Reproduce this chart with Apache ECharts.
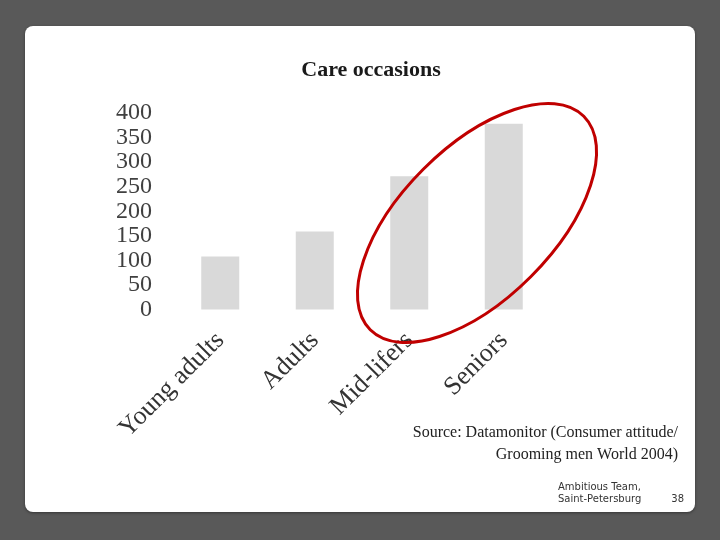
<!DOCTYPE html>
<html>
<head>
<meta charset="utf-8">
<script src="https://cdn.jsdelivr.net/npm/echarts@6/dist/echarts.min.js"></script>
<style>
html,body{margin:0;padding:0;background:#595959;}
#c{width:720px;height:540px;}
</style>
</head>
<body>
<div id="c"></div>
<script>
var categories = ['Young adults', 'Adults', 'Mid-lifers', 'Seniors'];
var values = [108, 159, 271, 378];
var yTicks = [0, 50, 100, 150, 200, 250, 300, 350, 400];
var titleText = 'Care occasions';
var sourceLines = ['Source: Datamonitor (Consumer attitude/', 'Grooming men World 2004)'];
var footerLines = ['Ambitious Team,', 'Saint-Petersburg'];
var pageNo = '38';

var chart = echarts.init(document.getElementById('c'));
var serif = '"Liberation Serif", "DejaVu Serif", serif';
chart.setOption({
  backgroundColor: '#595959',
  animation: false,
  title: {
    text: titleText,
    left: 366, top: 54, textAlign: 'center',
    textStyle: {fontFamily: serif, fontWeight: 'bold', fontSize: 22, color: '#1a1a1a'}
  },
  grid: {left: 173, right: 169, top: 113, bottom: 230.5, containLabel: false},
  xAxis: {
    type: 'category', data: categories,
    axisLine: {show: false}, axisTick: {show: false},
    axisLabel: {rotate: 45, margin: 27, interval: 0, fontFamily: serif, fontSize: 26, color: '#333'}
  },
  yAxis: {
    type: 'value', min: yTicks[0], max: yTicks[yTicks.length - 1], interval: yTicks[1] - yTicks[0],
    axisLine: {show: false}, axisTick: {show: false}, splitLine: {show: false},
    axisLabel: {margin: 21, fontFamily: serif, fontSize: 24, color: '#404040'}
  },
  series: [{
    type: 'bar', data: values, barWidth: 38,
    itemStyle: {color: '#d9d9d9'}, z: 2
  }],
  graphic: [
    {type: 'rect', z: -10, silent: true,
     shape: {x: 25, y: 26, width: 670, height: 486, r: 8},
     style: {fill: '#ffffff', shadowBlur: 3, shadowColor: 'rgba(0,0,0,0.4)', shadowOffsetY: 1}},
    {type: 'ellipse', z: 100, x: 477, y: 223, rotation: Math.PI / 4,
     shape: {cx: 0, cy: 0, rx: 151, ry: 76},
     style: {fill: 'none', stroke: '#c00000', lineWidth: 3}},
    {type: 'text', z: 50, x: 678, y: 433,
     style: {text: sourceLines[0], fontFamily: serif, fontSize: 16, fill: '#222', textAlign: 'right', textVerticalAlign: 'middle'}},
    {type: 'text', z: 50, x: 678, y: 455,
     style: {text: sourceLines[1], fontFamily: serif, fontSize: 16, fill: '#222', textAlign: 'right', textVerticalAlign: 'middle'}},
    {type: 'text', z: 50, x: 558, y: 487,
     style: {text: footerLines[0], fontFamily: '"DejaVu Sans", sans-serif', fontSize: 10, fill: '#333', textVerticalAlign: 'middle'}},
    {type: 'text', z: 50, x: 558, y: 499,
     style: {text: footerLines[1], fontFamily: '"DejaVu Sans", sans-serif', fontSize: 10, fill: '#333', textVerticalAlign: 'middle'}},
    {type: 'text', z: 50, x: 684, y: 499,
     style: {text: pageNo, fontFamily: '"DejaVu Sans", sans-serif', fontSize: 10, fill: '#333', textAlign: 'right', textVerticalAlign: 'middle'}}
  ]
});
</script>
</body>
</html>
